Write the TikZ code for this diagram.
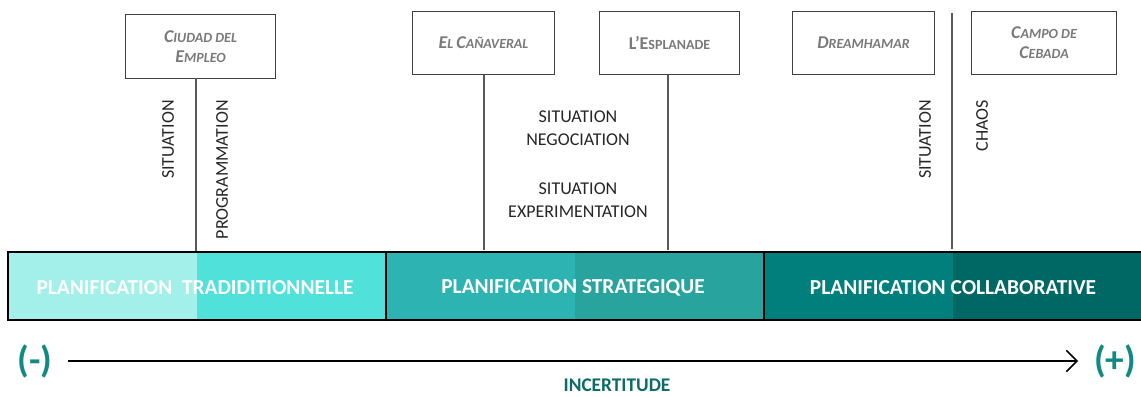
\documentclass[tikz,border=0pt]{standalone}
\usepackage{fontspec}
\setmainfont{Carlito}
\usetikzlibrary{arrows.meta}
\definecolor{tA}{HTML}{A3EFE9}
\definecolor{tB}{HTML}{50E2DA}
\definecolor{tC}{HTML}{2EB3B3}
\definecolor{tD}{HTML}{28A39E}
\definecolor{tE}{HTML}{007F7C}
\definecolor{tF}{HTML}{006864}
\definecolor{lbl}{HTML}{7A7A7A}
\definecolor{sign}{HTML}{128A84}
\definecolor{incert}{HTML}{0E6B66}
\definecolor{txt}{HTML}{262626}
\newcommand{\fsc}[2]{{\fontsize{13.5}{15}\selectfont #1}{\fontsize{10.5}{15}\selectfont #2}}
\tikzset{
  site/.style={draw=black!75, line width=0.8pt, fill=white, inner sep=0pt, anchor=north west,
    font=\bfseries\itshape, text=lbl, align=center},
  tick/.style={draw=black!65, line width=1.5pt},
  vlabel/.style={rotate=90, anchor=east, font=\fontsize{13.5}{15}\selectfont, text=txt, inner sep=0pt},
  hlabel/.style={font=\fontsize{13.5}{17.5}\selectfont, text=txt, align=center, inner sep=0pt},
  barlabel/.style={font=\bfseries\fontsize{16}{18}\selectfont, text=white, inner sep=0pt},
  sep/.style={draw=black, line width=2pt},
  sign/.style={font=\bfseries\fontsize{28}{30}\selectfont, text=sign, inner sep=0pt}
}
\begin{document}
\begin{tikzpicture}[x=0.75pt,y=-0.75pt]
\useasboundingbox (0,0) rectangle (1141,396);
% bar fills
\fill[tA] (8,252) rectangle (197,320);
\fill[tB] (197,252) rectangle (386,320);
\fill[tC] (386,252) rectangle (575,320);
\fill[tD] (575,252) rectangle (764,320);
\fill[tE] (764,252) rectangle (953,320);
\fill[tF] (953,252) rectangle (1141,320);
\draw[sep] (1141,252) -- (8,252) -- (8,320) -- (1141,320);
\draw[sep] (386,252) -- (386,320);
\draw[sep] (764,252) -- (764,320);
% bar labels
\node[barlabel] (b1) at (195,288) {PLANIFICATION\ \ TRADIDITIONNELLE};
\node[barlabel] (b2) at (573,288) {PLANIFICATION STRATEGIQUE};
\node[barlabel] (b3) at (953,288) {PLANIFICATION COLLABORATIVE};
% coordinates on bar top
\coordinate (t1) at (196,251);
\coordinate (t2) at (484,250);
\coordinate (t3) at (668,250);
\coordinate (t4) at (952,249);
\coordinate (top4) at (952,13);
\coordinate (c1) at (196,78);
\coordinate (c2) at (484,75);
\coordinate (c3) at (668,75);
% sites
\node[site, minimum width=150*0.75pt, minimum height=64*0.75pt] (ciudad) at (125,14) {\fsc{C}{IUDAD DEL}\\[3pt]\fsc{E}{MPLEO}};
\node[site, minimum width=142*0.75pt, minimum height=63*0.75pt] (canaveral) at (412,11) {\fsc{E}{L} \fsc{C}{AÑAVERAL}};
\node[site, minimum width=140*0.75pt, minimum height=63*0.75pt, font=\bfseries] (esplanade) at (599,11) {\fsc{L’E}{SPLANADE}};
\node[site, minimum width=142*0.75pt, minimum height=63*0.75pt] (dream) at (792,11) {\fsc{D}{REAMHAMAR}};
\node[site, minimum width=145*0.75pt, minimum height=63*0.75pt] (campo) at (971,11) {\fsc{C}{AMPO DE}\\[3pt]\fsc{C}{EBADA}};
% ticks
\draw[tick] (c1) -- (t1);
\draw[tick] (c2) -- (t2);
\draw[tick] (c3) -- (t3);
\draw[tick] (top4) -- (t4);
% labels
\node[vlabel] (s1) at (168,100) {SITUATION};
\node[vlabel] (p1) at (222,100) {PROGRAMMATION};
\node[hlabel] (neg) at (578,128) {SITUATION\\NEGOCIATION};
\node[hlabel] (exp) at (578,200) {SITUATION\\EXPERIMENTATION};
\node[vlabel] (s4) at (925,100) {SITUATION};
\node[vlabel] (chaos) at (982,100) {CHAOS};
% uncertainty axis
\node[sign] (minus) at (35,361) {(-)};
\node[sign] (plus) at (1115,361) {(+)};
\draw[line width=1.3pt, -{Straight Barb[length=8pt,width=16pt,line width=1.1pt]}] (68,361) -- (1078,361);
\node[font=\bfseries\fontsize{14.5}{16}\selectfont, text=incert, inner sep=0pt] (inc) at (617,385) {INCERTITUDE};
\end{tikzpicture}
\end{document}
